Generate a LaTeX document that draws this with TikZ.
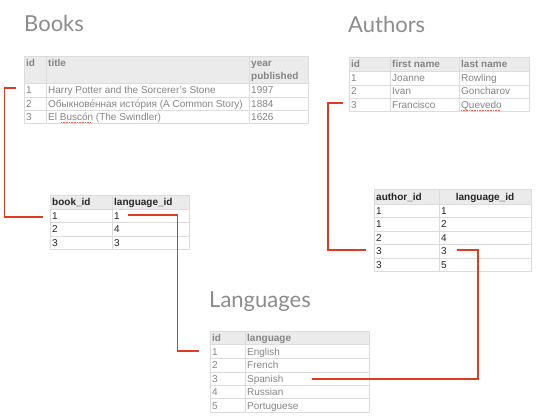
\documentclass[tikz,border=0pt]{standalone}
\usepackage{fontspec}
\setmainfont{Liberation Sans}
\newfontfamily\titlefont{Lato}
\definecolor{gridc}{HTML}{DCDCDC}
\definecolor{hdrc}{HTML}{EBEBEB}
\definecolor{greytext}{HTML}{858585}
\definecolor{titlec}{HTML}{8C8C8C}
\definecolor{linkred}{HTML}{E23A1F}
\tikzset{
  gridline/.style={draw=gridc, line width=0.8pt},
  hdrfill/.style={fill=hdrc},
  cell/.style={anchor=base west, inner sep=0pt, font=\fontsize{10}{11}\selectfont},
  gcell/.style={cell, text=greytext},
  ghead/.style={cell, text=greytext, font=\fontsize{10}{11}\selectfont\bfseries},
  bcell/.style={cell, text=black!85},
  bhead/.style={cell, text=black!85, font=\fontsize{10}{11}\selectfont\bfseries},
  ttl/.style={anchor=base west, inner sep=0pt, text=titlec, font=\titlefont\fontsize{22}{24}\selectfont},
  link/.style={draw=linkred, line width=1.4pt},
  spell/.style={draw=linkred!80, line width=0.7pt, dash pattern=on 1pt off 0.6pt}
}
\begin{document}
\begin{tikzpicture}[x=1pt,y=-1pt]
\useasboundingbox (0,0) rectangle (540,417);

% ---------- titles
\node[ttl] (tbooks) at (24,32) {Books};
\node[ttl] (tauthors) at (348,33) {Authors};
\node[ttl] (tlang) at (209,307) {Languages};

% ---------- Books table
\fill[hdrfill] (24,56) rectangle (308,83);
\draw[gridline] (24,56) rectangle (308,123);
\foreach \yy in {83,97,110} \draw[gridline] (24,\yy) -- (308,\yy);
\foreach \xx in {46,249} \draw[gridline] (\xx,56) -- (\xx,123);
\node[ghead] (bh1) at (26,67) {id};
\node[ghead] (bh2) at (48,67) {title};
\node[ghead] (bh3) at (251,67) {year};
\node[ghead] (bh3b) at (251,80) {published};
\node[gcell] (b11) at (26,93.5) {1};
\node[gcell] (b12) at (48,93.5) {Harry Potter and the Sorcerer's Stone};
\node[gcell] (b13) at (251,93.5) {1997};
\node[gcell] (b21) at (26,107) {2};
\node[gcell] (b22) at (48,107) {Обыкнове́нная исто́рия (A Common Story)};
\node[gcell] (b23) at (251,107) {1884};
\node[gcell] (b31) at (26,120.5) {3};
\node[gcell] (b32) at (48,120.5) {El Buscón (The Swindler)};
\node[gcell] (b33) at (251,120.5) {1626};
\draw[spell] (61,122.3) -- (91,122.3);

% ---------- Authors table
\fill[hdrfill] (349,57) rectangle (529,71);
\draw[gridline] (349,57) rectangle (529,111);
\foreach \yy in {71,85,98} \draw[gridline] (349,\yy) -- (529,\yy);
\foreach \xx in {390,459} \draw[gridline] (\xx,57) -- (\xx,111);
\node[ghead] (ah1) at (351,67.5) {id};
\node[ghead] (ah2) at (392,67.5) {first name};
\node[ghead] (ah3) at (461,67.5) {last name};
\node[gcell] (a11) at (351,81.5) {1};
\node[gcell] (a12) at (392,81.5) {Joanne};
\node[gcell] (a13) at (461,81.5) {Rowling};
\node[gcell] (a21) at (351,95) {2};
\node[gcell] (a22) at (392,95) {Ivan};
\node[gcell] (a23) at (461,95) {Goncharov};
\node[gcell] (a31) at (351,108.5) {3};
\node[gcell] (a32) at (392,108.5) {Francisco};
\node[gcell] (a33) at (461,108.5) {Quevedo};
\draw[spell] (461,110.2) -- (500,110.2);

% ---------- book_language table
\fill[hdrfill] (50,195) rectangle (189,209);
\draw[gridline] (50,195) rectangle (189,249);
\foreach \yy in {209,222,236} \draw[gridline] (50,\yy) -- (189,\yy);
\draw[gridline] (112,195) -- (112,249);
\node[bhead] (blh1) at (52,205.5) {book\_id};
\node[bhead] (blh2) at (114,205.5) {language\_id};
\node[bcell] (bl11) at (52,219) {1};
\node[bcell] (bl12) at (114,219) {1};
\node[bcell] (bl21) at (52,232.5) {2};
\node[bcell] (bl22) at (114,232.5) {4};
\node[bcell] (bl31) at (52,246) {3};
\node[bcell] (bl32) at (114,246) {3};

% ---------- author_language table
\fill[hdrfill] (374,189) rectangle (531,204);
\draw[gridline] (374,189) rectangle (531,271);
\foreach \yy in {204,217,231,244,258} \draw[gridline] (374,\yy) -- (531,\yy);
\draw[gridline] (439,189) -- (439,271);
\node[bhead] (alh1) at (376,200.5) {author\_id};
\node[bhead, anchor=base] (alh2) at (485,200.5) {language\_id};
\node[bcell] (al11) at (376,214) {1};
\node[bcell] (al12) at (441,214) {1};
\node[bcell] (al21) at (376,227.5) {1};
\node[bcell] (al22) at (441,227.5) {2};
\node[bcell] (al31) at (376,241) {2};
\node[bcell] (al32) at (441,241) {4};
\node[bcell] (al41) at (376,254.5) {3};
\node[bcell] (al42) at (441,254.5) {3};
\node[bcell] (al51) at (376,268) {3};
\node[bcell] (al52) at (441,268) {5};

% ---------- Languages table
\fill[hdrfill] (210,331) rectangle (369,344);
\draw[gridline] (210,331) rectangle (369,412);
\foreach \yy in {344,358,372,385,398} \draw[gridline] (210,\yy) -- (369,\yy);
\draw[gridline] (245,331) -- (245,412);
\node[ghead] (lh1) at (212,341.5) {id};
\node[ghead] (lh2) at (247,341.5) {language};
\node[gcell] (l11) at (212,355) {1};
\node[gcell] (l12) at (247,355) {English};
\node[gcell] (l21) at (212,368.5) {2};
\node[gcell] (l22) at (247,368.5) {French};
\node[gcell] (l31) at (212,382) {3};
\node[gcell] (l32) at (247,382) {Spanish};
\node[gcell] (l41) at (212,395.5) {4};
\node[gcell] (l42) at (247,395.5) {Russian};
\node[gcell] (l51) at (212,409) {5};
\node[gcell] (l52) at (247,409) {Portuguese};

% ---------- connector end points
\coordinate (cb1) at (16,88);
\coordinate (cb1t) at (4.5,88);
\coordinate (cbl1) at (43,217);
\coordinate (cbl2) at (128,215);
\coordinate (cbl2t) at (177.5,215);
\coordinate (cl1) at (199,351);
\coordinate (ca3) at (343,103);
\coordinate (ca3t) at (328,103);
\coordinate (cal4) at (366,250);
\coordinate (cal4b) at (457,250);
\coordinate (cal4t) at (478,250);
\coordinate (cl3) at (312,379);

% ---------- connectors
\draw[link] (cb1) -- (cb1t) |- (cbl1);
\draw[link] (cbl2) -- (cbl2t) |- (cl1);
\draw[link] (ca3) -- (ca3t) |- (cal4);
\draw[link] (cal4b) -- (cal4t) |- (cl3);
\end{tikzpicture}
\end{document}
